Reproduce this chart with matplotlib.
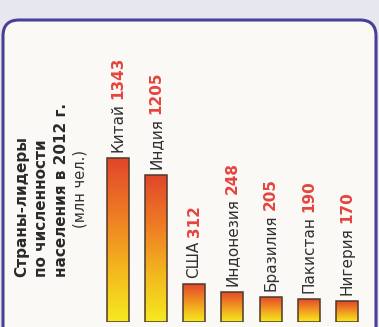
# =====================================================
# IMPORT LIBRARIES
# =====================================================
import numpy as np
import matplotlib.pyplot as plt
from matplotlib.colors import LinearSegmentedColormap
from matplotlib.patches import FancyBboxPatch

plt.rcParams['font.family'] = ['DejaVu Sans']

# =====================================================
# DATA
# =====================================================
countries = ['Китай', 'Индия', 'США', 'Индонезия', 'Бразилия', 'Пакистан', 'Нигерия']
population = [1343, 1205, 312, 248, 205, 190, 170]   # млн чел., 2012 г.

title_lines = ['Страны-лидеры', 'по численности', 'населения в 2012 г.']
unit_line = '(млн чел.)'

# =====================================================
# FIGURE + PANEL BACKGROUND
# =====================================================
W, H = 379, 327
fig = plt.figure(figsize=(W / 100, H / 100), dpi=100)
fig.patch.set_facecolor('#e7e7ef')

bg = fig.add_axes([0, 0, 1, 1])
bg.set_xlim(0, W)
bg.set_ylim(H, 0)
bg.axis('off')
panel = FancyBboxPatch((3, 20), 373, 340,
                       boxstyle='round,pad=0,rounding_size=16',
                       facecolor='#faf9f5', edgecolor='#4b3f96', linewidth=2.2)
bg.add_patch(panel)

# =====================================================
# TITLE (rotated)
# =====================================================
for i, line in enumerate(title_lines):
    fig.text((22 + 19.5 * i) / W, (H - 277) / H, line, rotation=90,
             ha='center', va='bottom', fontsize=11, fontweight='bold',
             color='#2a2a2a')
fig.text(80 / W, (H - 189) / H, unit_line, rotation=90,
         ha='center', va='center', fontsize=10.5, color='#333333')

# =====================================================
# BARS WITH VERTICAL GRADIENT
# =====================================================
ax = fig.add_axes([98.4 / W, 5 / H, 267.8 / W, 322 / H])
ax.axis('off')

cmap = LinearSegmentedColormap.from_list(
    'heat', ['#f5ea1e', '#f3b51e', '#ee7a24', '#e1462b'])
grad = np.linspace(0, 1, 256).reshape(-1, 1)

x = np.arange(len(countries))
bw = 0.575
bars = ax.bar(x, population, width=bw, facecolor='none',
              edgecolor='#4e3a2a', linewidth=1.1, zorder=3)

for xi, val, b in zip(x, population, bars):
    im = ax.imshow(grad, cmap=cmap, origin='lower', aspect='auto',
                   extent=[xi - bw / 2, xi + bw / 2, 0, val], zorder=2)
    im.set_clip_path(b)

ax.set_xlim(-0.5, len(countries) - 0.5)
ax.set_ylim(0, 2637)

# =====================================================
# LABELS: country (dark) + value (red, bold)
# =====================================================
for xi, name, val in zip(x, countries, population):
    t1 = ax.annotate(name, xy=(xi, val), xytext=(0, 6),
                     textcoords='offset pixels', rotation=90,
                     ha='center', va='bottom', fontsize=11,
                     color='#303030')
    ax.annotate(str(val), xy=(0.5, 1), xycoords=t1, xytext=(0, 4),
                textcoords='offset pixels', rotation=90,
                ha='center', va='bottom', fontsize=11,
                fontweight='bold', color='#e6433e')

fig.savefig('out.png', dpi=100, facecolor=fig.get_facecolor())
